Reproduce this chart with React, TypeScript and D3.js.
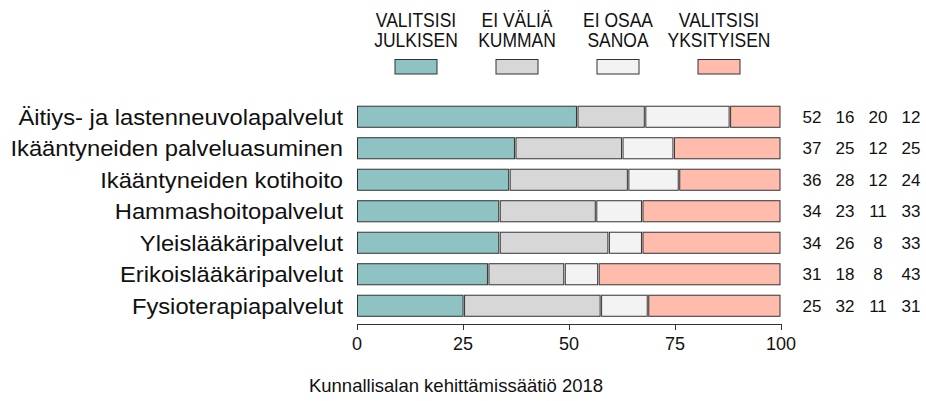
import React from 'react';
import * as d3 from 'd3';

const categories = [
  'Äitiys- ja lastenneuvolapalvelut',
  'Ikääntyneiden palveluasuminen',
  'Ikääntyneiden kotihoito',
  'Hammashoitopalvelut',
  'Yleislääkäripalvelut',
  'Erikoislääkäripalvelut',
  'Fysioterapiapalvelut',
];
const julkinen = [52, 37, 36, 34, 34, 31, 25];
const eiValia = [16, 25, 28, 23, 26, 18, 32];
const eiOsaa = [20, 12, 12, 11, 8, 8, 11];
const yksityinen = [12, 25, 24, 33, 33, 43, 31];

const seriesKeys = ['julkinen', 'eiValia', 'eiOsaa', 'yksityinen'];
const legendLines = [
  ['VALITSISI', 'JULKISEN'],
  ['EI VÄLIÄ', 'KUMMAN'],
  ['EI OSAA', 'SANOA'],
  ['VALITSISI', 'YKSITYISEN'],
];
const tickValues = [0, 25, 50, 75, 100];
const footer = 'Kunnallisalan kehittämissäätiö 2018';

const colors = ['#8fc2c2', '#d7d7d7', '#f3f3f3', '#ffbbab'];
const font = '"Liberation Sans", Arial, sans-serif';

const App = () => {
  const width = 926;
  const height = 401;

  const rows = categories.map((c, i) => ({
    cat: c,
    julkinen: julkinen[i],
    eiValia: eiValia[i],
    eiOsaa: eiOsaa[i],
    yksityinen: yksityinen[i],
  }));

  // rounded shares don't always sum to 100, so stretch each row to full width
  const stacked = d3.stack().keys(seriesKeys).offset(d3.stackOffsetExpand)(rows as any);

  const x = d3.scaleLinear().domain([0, 100]).range([357, 781]);
  const y = d3.scaleBand()
    .domain(categories)
    .range([101, 321.5])
    .paddingInner(0.3)
    .paddingOuter(0.15);

  const legendX = d3.scalePoint().domain(seriesKeys).range([416, 719]);
  const numX = d3.scalePoint().domain(seriesKeys).range([812, 911]);
  const axisY = 324;

  return (
    <svg width={width} height={height} style={{ position: 'absolute', left: 0, top: 0 }}
      fontFamily={font}>
      <rect width={width} height={height} fill="#fff" />

      {/* legend */}
      {seriesKeys.map((k, i) => (
        <g key={k}>
          {legendLines[i].map((t, j) => (
            <g key={j} transform={`translate(${legendX(k)},${26.5 + j * 20}) scale(1,1.12)`}>
              <text textAnchor="middle" fontSize={17.5} fill="#111">{t}</text>
            </g>
          ))}
          <rect x={legendX(k)! - 21} y={59.5} width={42} height={14.5}
            fill={colors[i]} stroke="#333" strokeWidth={1} />
        </g>
      ))}

      {/* bars */}
      {stacked.map((s, si) => (
        <g key={s.key} fill={colors[si]} stroke="#333" strokeWidth={1}>
          {s.map((d, i) => {
            const x0 = x(d[0] * 100);
            const x1 = x(d[1] * 100);
            return (
              <rect key={i} x={x0 + 0.5} y={y(categories[i])! + 0.5}
                width={Math.max(0, x1 - x0 - 1.5)} height={y.bandwidth() - 1} />
            );
          })}
        </g>
      ))}

      {/* category labels */}
      {categories.map((c) => (
        <g key={c} transform={`translate(343,${y(c)! + y.bandwidth() / 2}) scale(1.08,1)`}>
          <text dy="0.36em" textAnchor="end" fontSize={22} fill="#111">{c}</text>
        </g>
      ))}

      {/* values on the right */}
      {rows.map((r: any) => seriesKeys.map((k) => (
        <text key={r.cat + k} x={numX(k)} y={y(r.cat)! + y.bandwidth() / 2} dy="0.36em"
          textAnchor="middle" fontSize={17} fill="#111">{r[k]}</text>
      )))}

      {/* axis */}
      <g stroke="#333" strokeWidth={1} fill="none">
        <line x1={x(0)} x2={x(100)} y1={axisY + 0.5} y2={axisY + 0.5} />
        {tickValues.map((t) => (
          <line key={t} x1={x(t) + 0.5} x2={x(t) + 0.5} y1={axisY} y2={axisY + 6} />
        ))}
      </g>
      {tickValues.map((t) => (
        <text key={t} x={x(t)} y={350} textAnchor="middle" fontSize={18} fill="#111">{t}</text>
      ))}

      <text x={456} y={392} textAnchor="middle" fontSize={18.5} fill="#111">{footer}</text>
    </svg>
  );
};

export default App;
